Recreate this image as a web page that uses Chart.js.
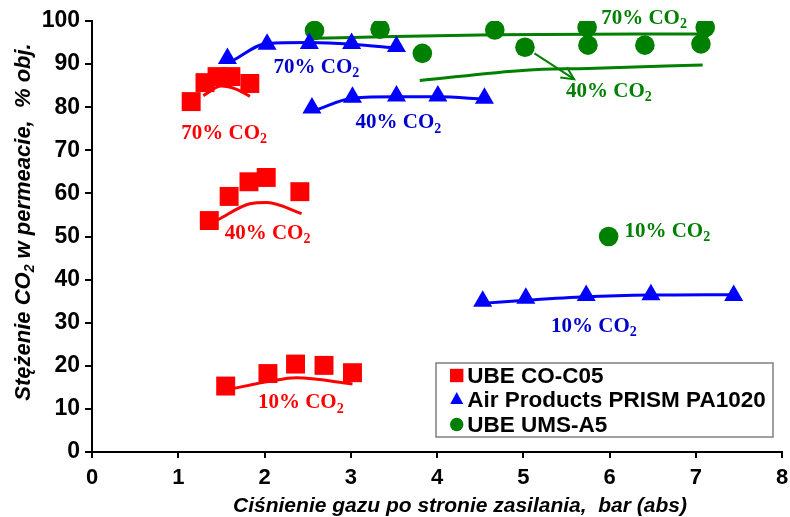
<!DOCTYPE html>
<html><head><meta charset="utf-8">
<script src="https://cdn.jsdelivr.net/npm/chart.js@4"></script>
<style>html,body{margin:0;padding:0;background:#fff}</style>
</head><body>
<canvas id="c" width="790" height="517"></canvas>
<script>
// ---------- DATA ----------
const seriesNames = ['UBE CO-C05', 'Air Products PRISM PA1020', 'UBE UMS-A5'];
const xTicks = [0, 1, 2, 3, 4, 5, 6, 7, 8];
const yTicks = [0, 10, 20, 30, 40, 50, 60, 70, 80, 90, 100];

// UBE CO-C05 measured points
const ube05_70 = [[1.15, 81.3], [1.31, 85.7], [1.45, 87.1], [1.61, 87.1], [1.83, 85.5]];
const ube05_40 = [[1.36, 53.7], [1.59, 59.3], [1.82, 62.7], [2.02, 63.7], [2.41, 60.4]];
const ube05_10 = [[1.55, 15.3], [2.04, 18.2], [2.36, 20.4], [2.69, 20.1], [3.02, 18.4]];
// UBE CO-C05 model curves
const ube05_70_fit = [[1.29, 82.7], [1.50, 84.9], [1.67, 84.2], [1.83, 82.5]];
const ube05_40_fit = [[1.46, 53.9], [1.83, 57.6], [2.03, 57.9], [2.43, 55.3]];
const ube05_10_fit = [[1.63, 14.7], [2.06, 16.4], [2.37, 17.2], [3.02, 15.8]];

// Air Products PRISM PA1020 measured points
const prism_70 = [[1.57, 91.3], [2.03, 94.6], [2.52, 94.8], [3.01, 94.8], [3.53, 94.1]];
const prism_40 = [[2.55, 79.8], [3.02, 82.3], [3.53, 82.6], [4.01, 82.6], [4.55, 82.1]];
const prism_10 = [[4.53, 35.0], [5.03, 35.7], [5.73, 36.3], [6.48, 36.5], [7.44, 36.3]];
// PRISM model curves
const prism_70_fit = [[1.63, 90.8], [2.03, 94.8], [2.52, 95.0], [3.02, 94.6], [3.53, 93.7]];
const prism_40_fit = [[2.60, 79.4], [3.02, 82.1], [3.53, 82.4], [4.01, 82.4], [4.55, 81.9]];
const prism_10_fit = [[4.60, 34.6], [5.03, 35.2], [5.73, 36.0], [6.48, 36.4], [7.44, 36.5]];

// UBE UMS-A5 measured points
const ums_70 = [[2.58, 97.8], [3.34, 98.1], [4.67, 97.9], [5.74, 98.5], [7.11, 98.5]];
const ums_40 = [[3.83, 92.5], [5.02, 93.9], [5.75, 94.4], [6.41, 94.4], [7.06, 94.7]];
const ums_10 = [[5.99, 50.0]];
// UMS model curves
const ums_70_fit = [[2.58, 96.0], [3.50, 96.4], [4.67, 96.8], [7.11, 97.0]];
const ums_40_fit = [[3.80, 86.2], [5.03, 88.6], [5.75, 89.0], [7.08, 89.8]];

// annotation texts: [text, subscript, x, y(baseline), colour key]
const noteTexts = [
  ['70% CO', '2', 1.036, 72.6, 'r'],
  ['40% CO', '2', 1.538, 49.5, 'r'],
  ['10% CO', '2', 1.924, 10.1, 'r'],
  ['70% CO', '2', 2.105, 87.9, 'b'],
  ['40% CO', '2', 3.055, 75.1, 'b'],
  ['10% CO', '2', 5.323, 27.9, 'b'],
  ['70% CO', '2', 5.903, 99.3, 'g'],
  ['40% CO', '2', 5.497, 82.3, 'g'],
  ['10% CO', '2', 6.173, 49.9, 'g']
];
const arrowFrom = [5.13, 92.5];
const arrowTo = [5.59, 86.5];

// ---------- STYLE ----------
const RED = '#FF0000', BLUE = '#0000FF', GREEN = '#008000';
const TXT = {r: '#FF0000', b: '#0000CC', g: '#008000'};
const SANS = "'Liberation Sans',Arial,sans-serif";
const SERIF = "'Liberation Serif','Times New Roman',serif";
const toXY = a => a.map(p => ({x: p[0], y: p[1]}));

function pts(label, data, color, style, r, hideLegend) {
  return {label, data: toXY(data), showLine: false, pointStyle: style,
    pointRadius: r, pointHoverRadius: r, backgroundColor: color, borderColor: color,
    pointBorderWidth: 0, _legend: !hideLegend};
}
function fit(data, color) {
  return {label: '', data: toXY(data), showLine: true, pointRadius: 0, borderColor: color,
    borderWidth: 3, tension: 0.4, cubicInterpolationMode: 'monotone', fill: false, _legend: false};
}

const datasets = [
  pts(seriesNames[0], ube05_70, RED, 'rect', 13.4),
  pts(seriesNames[0], ube05_40, RED, 'rect', 13.4, true),
  pts(seriesNames[0], ube05_10, RED, 'rect', 13.4, true),
  pts(seriesNames[1], prism_70, BLUE, 'triangle', 11),
  pts(seriesNames[1], prism_40, BLUE, 'triangle', 11, true),
  pts(seriesNames[1], prism_10, BLUE, 'triangle', 11, true),
  pts(seriesNames[2], ums_70, GREEN, 'circle', 9.8),
  pts(seriesNames[2], ums_40, GREEN, 'circle', 9.8, true),
  pts(seriesNames[2], ums_10, GREEN, 'circle', 9.8, true),
  fit(ube05_70_fit, RED), fit(ube05_40_fit, RED), fit(ube05_10_fit, RED),
  fit(prism_70_fit, BLUE), fit(prism_40_fit, BLUE), fit(prism_10_fit, BLUE),
  fit(ums_70_fit, GREEN), fit(ums_40_fit, GREEN)
];

function drawRich(ctx, x, y, main, sub, size, color, family, weight, style) {
  ctx.save();
  ctx.fillStyle = color;
  ctx.textBaseline = 'alphabetic';
  ctx.textAlign = 'left';
  ctx.font = `${style||''} ${weight||'bold'} ${size}px ${family}`;
  ctx.fillText(main, x, y);
  const w = ctx.measureText(main).width;
  const ss = Math.round(size * 0.66);
  ctx.font = `${style||''} ${weight||'bold'} ${ss}px ${family}`;
  ctx.fillText(sub, x + w, y + size * 0.2);
  ctx.restore();
}

const extras = {
  id: 'extras',
  afterDatasetsDraw(chart) {
    const {ctx, scales: {x, y}} = chart;
    // annotations
    noteTexts.forEach(n => {
      drawRich(ctx, x.getPixelForValue(n[2]), y.getPixelForValue(n[3]), n[0], n[1], 21, TXT[n[4]], SERIF, 'bold');
    });
    // arrow
    const x1 = x.getPixelForValue(arrowFrom[0]), y1 = y.getPixelForValue(arrowFrom[1]);
    const x2 = x.getPixelForValue(arrowTo[0]), y2 = y.getPixelForValue(arrowTo[1]);
    ctx.save();
    ctx.strokeStyle = GREEN; ctx.lineWidth = 2;
    ctx.beginPath(); ctx.moveTo(x1, y1); ctx.lineTo(x2, y2); ctx.stroke();
    const ang = Math.atan2(y2 - y1, x2 - x1);
    ctx.beginPath();
    ctx.moveTo(x2 - 14 * Math.cos(ang - 0.45), y2 - 14 * Math.sin(ang - 0.45));
    ctx.lineTo(x2, y2);
    ctx.lineTo(x2 - 14 * Math.cos(ang + 0.45), y2 - 14 * Math.sin(ang + 0.45));
    ctx.stroke();
    ctx.restore();

    // legend
    ctx.save();
    const L = 436, T = 363, W = 337, H = 74;
    ctx.fillStyle = '#fff'; ctx.fillRect(L, T, W, H);
    ctx.strokeStyle = '#7f7f7f'; ctx.lineWidth = 1.5; ctx.strokeRect(L, T, W, H);
    const legendIdx = chart.data.datasets.map((d, i) => i).filter(i => chart.data.datasets[i]._legend);
    const rowsY = [383, 407, 432];
    legendIdx.forEach((di, k) => {
      const ds = chart.data.datasets[di];
      const cy = rowsY[k] - 7.5, cx = 456.7;
      ctx.fillStyle = ds.backgroundColor;
      ctx.beginPath();
      if (ds.pointStyle === 'rect') ctx.rect(cx - 6.7, cy - 6.7, 13.4, 13.4);
      else if (ds.pointStyle === 'triangle') { ctx.moveTo(cx, cy - 7.5); ctx.lineTo(cx + 6.5, cy + 4.5); ctx.lineTo(cx - 6.5, cy + 4.5); ctx.closePath(); }
      else ctx.arc(cx, cy, 6.7, 0, Math.PI * 2);
      ctx.fill();
      ctx.fillStyle = '#000';
      ctx.font = `bold 22.5px ${SANS}`;
      ctx.textBaseline = 'alphabetic';
      ctx.fillText(ds.label, 467.3, rowsY[k]);
    });
    ctx.restore();

    // axis titles
    ctx.save();
    ctx.fillStyle = '#000';
    ctx.font = `italic bold 21px ${SANS}`;
    ctx.textAlign = 'center'; ctx.textBaseline = 'middle';
    ctx.fillText('Ciśnienie gazu po stronie zasilania,  bar (abs)', 460, 506);
    ctx.translate(22, 222);
    ctx.rotate(-Math.PI / 2);
    const a = 'Stężenie CO', b = '2', c = ' w permeacie,  % obj.';
    const fs = 22, fsub = 14;
    ctx.font = `italic bold ${fs}px ${SANS}`;
    const wa = ctx.measureText(a).width, wc = ctx.measureText(c).width;
    ctx.font = `italic bold ${fsub}px ${SANS}`;
    const wb = ctx.measureText(b).width;
    const tot = wa + wb + wc;
    ctx.textAlign = 'left'; ctx.textBaseline = 'alphabetic';
    let px = -tot / 2;
    ctx.font = `italic bold ${fs}px ${SANS}`;
    ctx.fillText(a, px, 8); px += wa;
    ctx.font = `italic bold ${fsub}px ${SANS}`;
    ctx.fillText(b, px, 12); px += wb;
    ctx.font = `italic bold ${fs}px ${SANS}`;
    ctx.fillText(c, px, 8);
    ctx.restore();
  }
};

new Chart(document.getElementById('c'), {
  type: 'scatter',
  data: {datasets},
  options: {
    responsive: false, animation: false, devicePixelRatio: 1,
    layout: {autoPadding: false, padding: {top: 21, right: 8, left: 0, bottom: 0}},
    plugins: {legend: {display: false}, tooltip: {enabled: false}},
    scales: {
      x: {
        type: 'linear', min: 0, max: 8,
        afterBuildTicks(s) { s.ticks = xTicks.map(v => ({value: v})); },
        afterFit(s) { s.height = 65; s.paddingRight = 0; s.paddingLeft = 0; },
        ticks: {color: '#000', padding: 7, font: {family: SANS, size: 22, weight: 'bold'}},
        grid: {drawOnChartArea: false, drawTicks: true, tickLength: 6, color: '#000', lineWidth: 2},
        border: {display: true, color: '#000', width: 2}
      },
      y: {
        type: 'linear', min: 0, max: 100,
        afterBuildTicks(s) { s.ticks = yTicks.map(v => ({value: v})); },
        afterFit(s) { s.width = 92; s.paddingTop = 0; s.paddingBottom = 0; },
        ticks: {color: '#000', padding: 5, font: {family: SANS, size: 23, weight: 'bold'}},
        grid: {drawOnChartArea: false, drawTicks: true, tickLength: 7, color: '#000', lineWidth: 2},
        border: {display: true, color: '#000', width: 2}
      }
    }
  },
  plugins: [extras]
});
</script>
</body></html>
